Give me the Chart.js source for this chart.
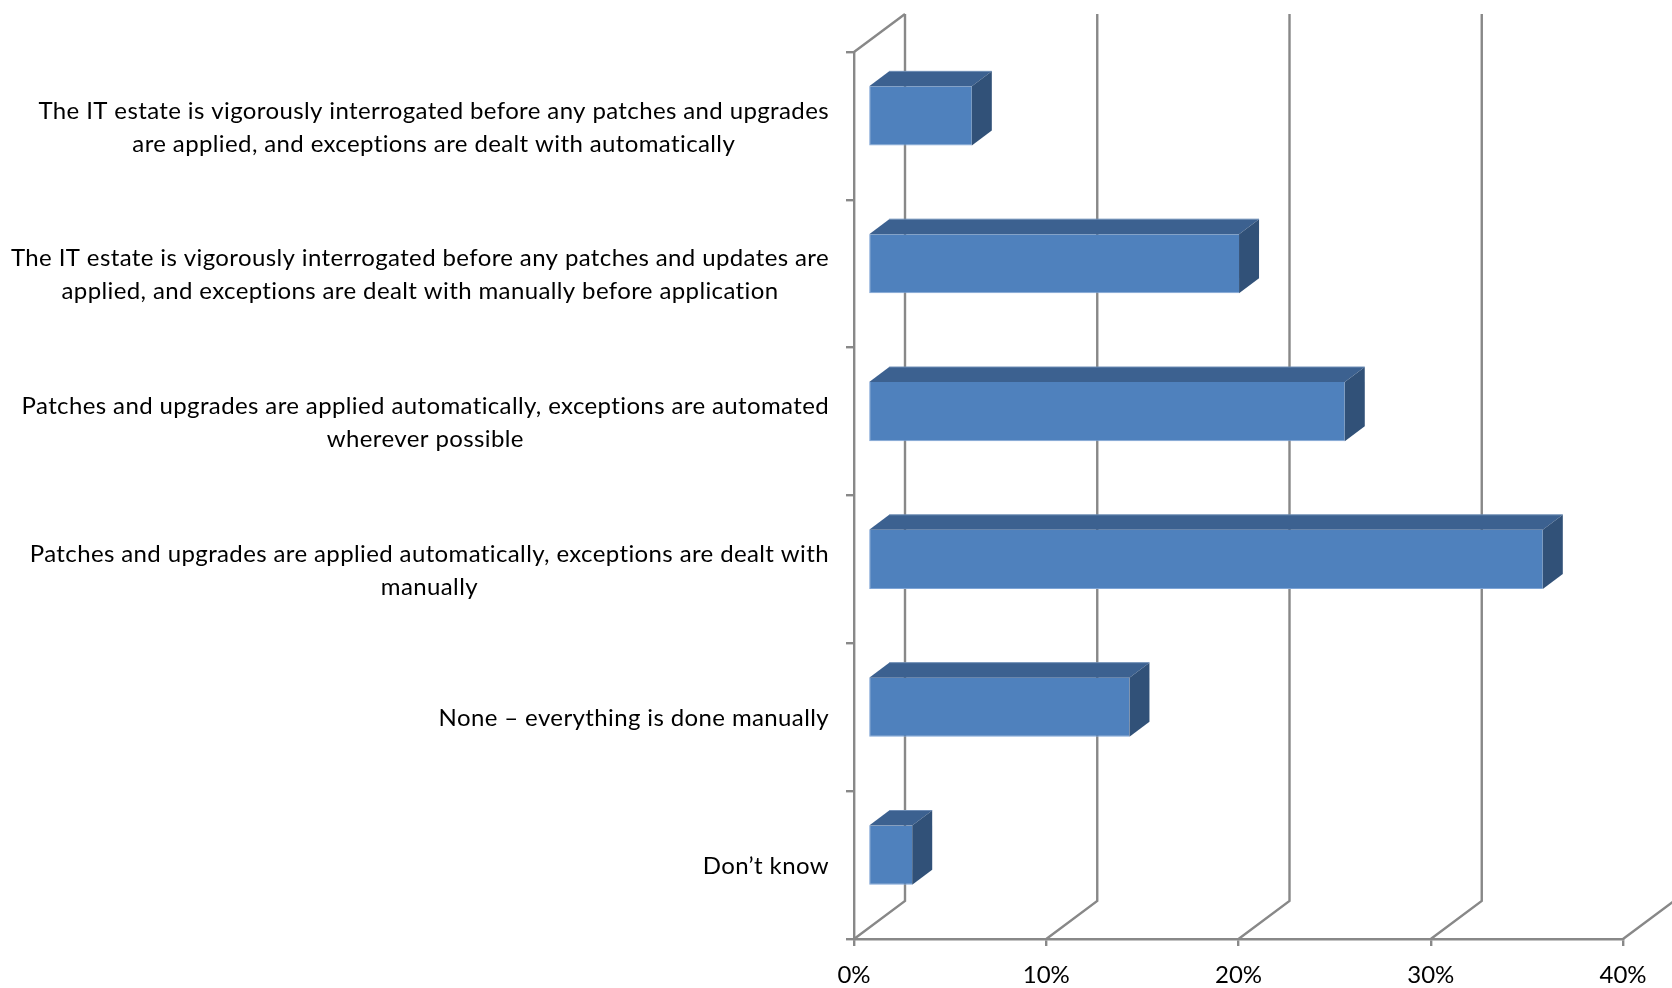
<!DOCTYPE html>
<html>
<head>
<meta charset="utf-8">
<style>
html, body { margin: 0; padding: 0; background: #fff; }
canvas { display: block; }
</style>
<script src="https://cdn.jsdelivr.net/npm/chart.js@4"></script>
</head>
<body>
<canvas id="chart" width="1672" height="988"></canvas>
<script>
var categories = [
	['The IT estate is vigorously interrogated before any patches and upgrades', 'are applied, and exceptions are dealt with automatically'],
	['The IT estate is vigorously interrogated before any patches and updates are', 'applied, and exceptions are dealt with manually before application'],
	['Patches and upgrades are applied automatically, exceptions are automated', 'wherever possible'],
	['Patches and upgrades are applied automatically, exceptions are dealt with', 'manually'],
	['None \u2013 everything is done manually'],
	['Don\u2019t know']
];
var shares = [5.4, 19.3, 24.8, 35.1, 13.6, 2.3];
var axisMax = 40;
var axisStep = 10;

var lineColour = '#888888';
var lineWidth = 2.4;
var fontName = 'Lato';
var labelFont = '24px ' + fontName;

// the fake 3D depth of the chart box, and where the bars sit inside it
var wallDx = 51, wallDy = 38;
var barDx = 14, barDy = 10;
var faceDx = 20, faceDy = 15;

var walls = {
	id: 'walls',
	beforeDatasetsDraw: function(chart) {
		var ctx = chart.ctx, x = chart.scales.x, area = chart.chartArea;
		ctx.save();
		ctx.strokeStyle = lineColour;
		ctx.lineWidth = lineWidth;
		for (var v = 0; v <= axisMax; v += axisStep) {
			var px = x.getPixelForValue(v);
			ctx.beginPath();
			ctx.moveTo(px, area.bottom);
			ctx.lineTo(px + wallDx, area.bottom - wallDy);
			ctx.lineTo(px + wallDx, area.top - wallDy);
			ctx.stroke();
		}
		ctx.beginPath();
		ctx.moveTo(x.getPixelForValue(0), area.top);
		ctx.lineTo(x.getPixelForValue(0) + wallDx, area.top - wallDy);
		ctx.stroke();
		ctx.restore();
	}
};

var boxes = {
	id: 'boxes',
	beforeDatasetDraw: function(chart) {
		chart.ctx.save();
		chart.ctx.translate(barDx, -barDy);
	},
	afterDatasetDraw: function(chart, args) {
		var ctx = chart.ctx;
		args.meta.data.forEach(function(bar) {
			var right = bar.x, left = bar.base;
			var top = bar.y - bar.height / 2, bottom = bar.y + bar.height / 2;
			ctx.fillStyle = '#3c6190';
			ctx.beginPath();
			ctx.moveTo(left, top);
			ctx.lineTo(left + faceDx, top - faceDy);
			ctx.lineTo(right + faceDx, top - faceDy);
			ctx.lineTo(right, top);
			ctx.closePath();
			ctx.fill();
			ctx.fillStyle = '#315178';
			ctx.beginPath();
			ctx.moveTo(right, top);
			ctx.lineTo(right + faceDx, top - faceDy);
			ctx.lineTo(right + faceDx, bottom - faceDy);
			ctx.lineTo(right, bottom);
			ctx.closePath();
			ctx.fill();
			// thin lighter rim along the back edge
			ctx.strokeStyle = '#6d8db5';
			ctx.lineWidth = 1;
			ctx.beginPath();
			ctx.moveTo(left + faceDx, top - faceDy);
			ctx.lineTo(right + faceDx, top - faceDy);
			ctx.stroke();
		});
		ctx.restore();
	}
};

// category labels: lines centred on each other, block flush right against the axis
var blockLabels = {
	id: 'blockLabels',
	afterDraw: function(chart) {
		var ctx = chart.ctx, y = chart.scales.y;
		ctx.save();
		ctx.font = labelFont;
		ctx.letterSpacing = '0.38px';
		ctx.fillStyle = '#000';
		ctx.textAlign = 'center';
		ctx.textBaseline = 'middle';
		categories.forEach(function(lines, i) {
			var widest = 0;
			lines.forEach(function(line) {
				widest = Math.max(widest, ctx.measureText(line).width);
			});
			var cy = y.getPixelForTick(i) + 1.5;
			lines.forEach(function(line, n) {
				ctx.fillText(line, 829 - widest / 2, cy + (n - (lines.length - 1) / 2) * 33);
			});
		});
		ctx.restore();
	}
};

var ctx = document.getElementById('chart').getContext('2d');
window.myChart = new Chart(ctx, {
	type: 'bar',
	data: {
		labels: categories,
		datasets: [{
			data: shares,
			backgroundColor: '#4f81bd',
			borderColor: '#7fa5d6',
			borderWidth: { left: 1, bottom: 1, top: 0, right: 0 },
			borderSkipped: false,
			categoryPercentage: 1,
			barPercentage: 0.4,
			clip: false
		}]
	},
	options: {
		indexAxis: 'y',
		responsive: false,
		animation: false,
		devicePixelRatio: 1,
		layout: { padding: { top: 52, right: 49, left: 0, bottom: 0 } },
		plugins: {
			legend: { display: false },
			tooltip: { enabled: false }
		},
		scales: {
			x: {
				min: 0,
				max: axisMax,
				afterFit: function(scale) { scale.height = 49; },
				border: { color: lineColour, width: lineWidth },
				grid: { drawOnChartArea: false, color: lineColour, lineWidth: lineWidth, tickLength: 7 },
				ticks: {
					stepSize: axisStep,
					padding: 15,
					maxRotation: 0,
					color: '#000',
					font: { family: fontName, size: 24 },
					callback: function(v) { return v + '%'; }
				}
			},
			y: {
				afterFit: function(scale) { scale.width = 854; },
				border: { color: lineColour, width: lineWidth },
				grid: { drawOnChartArea: false, color: lineColour, lineWidth: lineWidth, tickLength: 8, offset: true },
				ticks: { display: false }
			}
		}
	},
	plugins: [walls, boxes, blockLabels]
});
</script>
</body>
</html>
